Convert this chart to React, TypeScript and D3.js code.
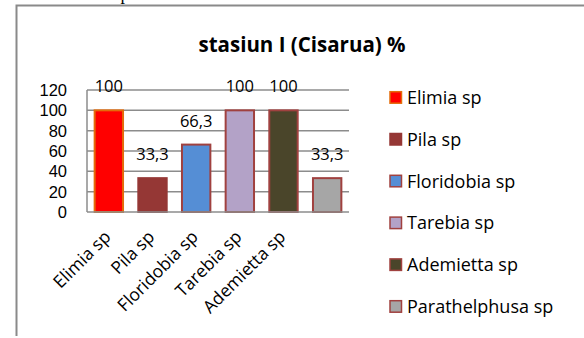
import React from "react";
import * as d3 from "d3";

const title = "stasiun I (Cisarua) %";
const categories = ["Elimia sp", "Pila sp", "Floridobia sp", "Tarebia sp", "Ademietta sp", "Parathelphusa sp"];
const values = [100, 33.3, 66.3, 100, 100, 33.3];
const valueLabels = ["100", "33,3", "66,3", "100", "100", "33,3"];
const fills = ["#FF0000", "#953735", "#558ED5", "#B3A2C7", "#4A452A", "#A6A6A6"];
const strokes = ["#E46C0A", "#953735", "#A0413F", "#A0413F", "#A0413F", "#A0413F"];
const yTicks = [0, 20, 40, 60, 80, 100, 120];
// x-axis shows first five labels only (last one dropped in the reference)
const xLabelCount = 5;

const FONT = "'Open Sans', sans-serif";

export default function App() {
  const W = 584, H = 338;
  const plot = { left: 87, right: 349, top: 90, bottom: 212 };
  const x = d3.scaleBand<string>().domain(categories).range([plot.left, plot.right]).paddingInner(0.35).paddingOuter(0.175);
  const y = d3.scaleLinear().domain([0, 120]).range([plot.bottom, plot.top]);
  const legendY = d3.scalePoint<string>().domain(categories).range([97.7, 306.7]);

  return (
    <svg width={W} height={H} style={{ position: "absolute", left: 0, top: 0 }} xmlns="http://www.w3.org/2000/svg">
      <rect x={0} y={0} width={W} height={H} fill="#fff" />
      <text x={120.5} y={0.3} fontFamily="'Liberation Serif', serif" fontSize={18} fill="#000">p</text>
      <path d={`M16.5,336 V5.5 H${W + 5}`} fill="none" stroke="#8a8a8a" strokeWidth={2} />
      <text x={302} y={52} textAnchor="middle" fontFamily={FONT} fontWeight="bold" fontSize={20.5} fill="#000">{title}</text>

      {yTicks.map((t) => (
        <g key={t}>
          {t > 0 && <line x1={plot.left} x2={plot.right} y1={y(t)} y2={y(t)} stroke="#8c8c8c" strokeWidth={1.5} />}
          <text x={67} y={y(t)} dy="0.36em" textAnchor="end" fontFamily="'Liberation Sans', sans-serif" fontSize={16.5} fill="#000">{t}</text>
        </g>
      ))}
      <line x1={plot.left} x2={plot.left} y1={plot.top} y2={plot.bottom} stroke="#8c8c8c" strokeWidth={1.5} />

      {categories.map((c, i) => (
        <rect key={c} x={x(c)!} y={y(values[i])} width={x.bandwidth()} height={y(0) - y(values[i])}
          fill={fills[i]} stroke={strokes[i]} strokeWidth={2} />
      ))}
      <line x1={plot.left} x2={plot.right} y1={plot.bottom} y2={plot.bottom} stroke="#8c8c8c" strokeWidth={1.5} />

      {categories.map((c, i) => (
        <text key={c} x={x(c)! + x.bandwidth() / 2} y={y(values[i]) - 18} textAnchor="middle"
          fontFamily={FONT} fontSize={16.5} fill="#000">{valueLabels[i]}</text>
      ))}

      {categories.slice(0, xLabelCount).map((c) => {
        const cx = x(c)! + x.bandwidth() / 2 + 3;
        const cy = 238;
        return (
          <text key={c} x={cx} y={cy} textAnchor="end" transform={`rotate(-45 ${cx} ${cy})`}
            fontFamily={FONT} fontSize={17.5} fill="#000">{c}</text>
        );
      })}

      {categories.map((c, i) => (
        <g key={c}>
          <rect x={390} y={legendY(c)! - 6} width={11.5} height={11.5} fill={fills[i]} stroke={strokes[i]} strokeWidth={1.5} />
          <text x={407} y={legendY(c)!} dy="0.35em" fontFamily={FONT} fontSize={18} fill="#000">{c}</text>
        </g>
      ))}
    </svg>
  );
}
